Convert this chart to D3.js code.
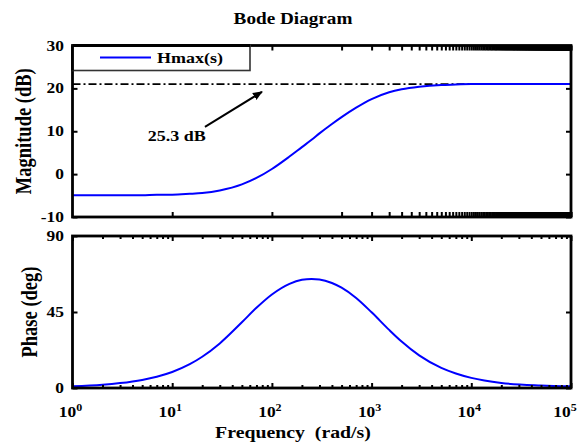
<!DOCTYPE html>
<html>
<head>
<meta charset="utf-8">
<script src="https://cdn.jsdelivr.net/npm/d3@7/dist/d3.min.js"></script>
<style>
  html, body { margin: 0; padding: 0; background: #fff; }
  svg { display: block; }
  text { font-family: "Liberation Serif", "Times New Roman", serif; font-weight: bold; fill: #000; }
</style>
</head>
<body>
<svg id="chart" width="579" height="444"></svg>
<script>
// ---- data ----
const freq = [1, 2, 3, 5, 7, 10, 15, 20, 30, 50, 70, 100, 150, 200, 250, 300, 400, 500, 700,
              1000, 1500, 2000, 3000, 5000, 7000, 10000, 20000, 50000, 100000];
const magDB = [-4.9, -4.9, -4.9, -4.9, -4.8, -4.8, -4.6, -4.4, -3.8, -2.4, -0.9, 1.2, 4.1, 6.3,
               8.0, 9.5, 11.7, 13.3, 15.5, 17.5, 19.1, 19.8, 20.4, 20.8, 20.9, 21.0, 21.0, 21.0, 21.0];
const phaseDeg = [1.0, 1.9, 2.9, 4.8, 6.7, 9.5, 14.1, 18.5, 26.4, 38.9, 47.5, 55.4, 61.7, 64.1,
                  64.6, 64.3, 62.2, 59.4, 53.3, 44.8, 34.4, 27.5, 19.3, 11.9, 8.6, 6.0, 3.0, 1.5, 1.0];
const refDB = 21.0;                  // dash-dot reference level
const magTicks = [-10, 0, 10, 20, 30];
const phaseTicks = [0, 45, 90];
const decadeTicks = [1, 10, 100, 1000, 10000, 100000];
const magTopTicks = [10, 100].concat(d3.range(500, 100001, 500));
const legendLabel = "Hmax(s)";
const annotText = "25.3 dB";
const annotTail = [21.3, 11.0];      // [rad/s, dB]
const annotHead = [79.5, 19.2];
const annotPos = [5.7, 7.7];

// ---- layout ----
const svg = d3.select("#chart");
const SX = 1.2; // horizontal text stretch seen in the reference
const x = d3.scaleLog().domain([1, 1e5]).range([72.5, 571]);
const yM = d3.scaleLinear().domain([-10, 30]).range([217, 45.5]);
const yP = d3.scaleLinear().domain([0, 90]).range([388, 236]);
const blue = "#0000ff";

function stretchedText(g, tx, ty, str, size, anchor, rot) {
  const t = g.append("text")
    .attr("transform", `translate(${tx},${ty}) scale(${SX},1)` + (rot ? ` rotate(${rot})` : ""))
    .attr("font-size", size)
    .attr("text-anchor", anchor)
    .text(str);
  return t;
}

// clip paths
const defs = svg.append("defs");
defs.append("clipPath").attr("id", "clipM").append("rect")
  .attr("x", x.range()[0]).attr("y", yM.range()[1])
  .attr("width", x.range()[1] - x.range()[0]).attr("height", yM.range()[0] - yM.range()[1]);
defs.append("clipPath").attr("id", "clipP").append("rect")
  .attr("x", x.range()[0]).attr("y", yP.range()[1])
  .attr("width", x.range()[1] - x.range()[0]).attr("height", yP.range()[0] - yP.range()[1]);
defs.append("marker").attr("id", "arrow").attr("viewBox", "0 0 10 10")
  .attr("refX", 9).attr("refY", 5).attr("markerWidth", 5).attr("markerHeight", 5)
  .attr("orient", "auto").attr("markerUnits", "strokeWidth")
  .append("path").attr("d", "M0,1 L10,5 L0,9 Z").attr("fill", "#000");

// ---- title ----
stretchedText(svg, 293, 24, "Bode Diagram", 16, "middle");

// ---- magnitude panel ----
const gM = svg.append("g");
gM.append("line")
  .attr("x1", x(1)).attr("x2", x(1e5)).attr("y1", yM(refDB)).attr("y2", yM(refDB))
  .attr("stroke", "#000").attr("stroke-width", 1.6).attr("stroke-dasharray", "8,3,2,3");

const lineM = d3.line().x((d, i) => x(freq[i])).y(d => yM(d)).curve(d3.curveMonotoneX);
gM.append("path").datum(magDB).attr("d", lineM)
  .attr("fill", "none").attr("stroke", blue).attr("stroke-width", 2)
  .attr("clip-path", "url(#clipM)");

function frameTicks(g, xs, ys, xTickVals, yTickVals, len, xMinorVals, minorLen) {
  const [x0, x1] = xs.range();
  const [y0, y1] = [ys.range()[1], ys.range()[0]]; // top, bottom
  g.append("g").attr("transform", `translate(0,${y1})`)
    .call(d3.axisBottom(xs).tickValues(xTickVals).tickSize(-len).tickFormat(""));
  g.append("g").attr("transform", `translate(0,${y0})`)
    .call(d3.axisTop(xs).tickValues(xTickVals).tickSize(-len).tickFormat(""));
  if (xMinorVals) {
    g.append("g").attr("transform", `translate(0,${y1})`)
      .call(d3.axisBottom(xs).tickValues(xMinorVals).tickSize(-minorLen).tickFormat(""));
    g.append("g").attr("transform", `translate(0,${y0})`)
      .call(d3.axisTop(xs).tickValues(xMinorVals).tickSize(-minorLen).tickFormat(""));
  }
  g.append("g").attr("transform", `translate(${x0},0)`)
    .call(d3.axisLeft(ys).tickValues(yTickVals).tickSize(-len).tickFormat(""));
  g.append("g").attr("transform", `translate(${x1},0)`)
    .call(d3.axisRight(ys).tickValues(yTickVals).tickSize(-len).tickFormat(""));
  g.selectAll(".domain").remove();
  g.selectAll(".tick line").attr("stroke", "#000").attr("stroke-width", 2);
  g.append("rect").attr("x", x0).attr("y", y0).attr("width", x1 - x0).attr("height", y1 - y0)
    .attr("fill", "none").attr("stroke", "#000").attr("stroke-width", 2.8);
}
frameTicks(gM, x, yM, magTopTicks, magTicks, 5);

// legend
const lg = gM.append("g");
lg.append("rect").attr("x", x(1)).attr("y", yM(30)).attr("width", 250 - x(1)).attr("height", 25)
  .attr("fill", "#fff").attr("stroke", "#333").attr("stroke-width", 1.6);
lg.append("line").attr("x1", 100).attr("x2", 151).attr("y1", 57.5).attr("y2", 57.5)
  .attr("stroke", blue).attr("stroke-width", 2);
stretchedText(lg, 157, 63, legendLabel, 15, "start");
gM.append("line").attr("x1", x(1)).attr("x2", 250).attr("y1", yM(30)).attr("y2", yM(30))
  .attr("stroke", "#000").attr("stroke-width", 2.8);
gM.append("line").attr("x1", x(1)).attr("x2", x(1)).attr("y1", yM(30)).attr("y2", yM(30) + 25)
  .attr("stroke", "#000").attr("stroke-width", 2.8);

// annotation
gM.append("line")
  .attr("x1", x(annotTail[0])).attr("y1", yM(annotTail[1]))
  .attr("x2", x(annotHead[0])).attr("y2", yM(annotHead[1]))
  .attr("stroke", "#000").attr("stroke-width", 2).attr("marker-end", "url(#arrow)");
stretchedText(gM, x(annotPos[0]), yM(annotPos[1]), annotText, 15, "start");

magTicks.forEach(v => {
  stretchedText(gM, 64, yM(v) + 5, String(v), 14.5, "end");
});
stretchedText(gM, 31, d3.mean(yM.range()), "Magnitude (dB)", 18.5, "middle", -90);

// ---- phase panel ----
const gP = svg.append("g");
const lineP = d3.line().x((d, i) => x(freq[i])).y(d => yP(d)).curve(d3.curveMonotoneX);
gP.append("path").datum(phaseDeg).attr("d", lineP)
  .attr("fill", "none").attr("stroke", blue).attr("stroke-width", 2)
  .attr("clip-path", "url(#clipP)");

const minor = [];
[1, 10, 100, 1000, 10000].forEach(b => { for (let k = 2; k <= 9; k++) minor.push(b * k); });
frameTicks(gP, x, yP, decadeTicks, phaseTicks, 5, minor, 3);

phaseTicks.forEach(v => {
  stretchedText(gP, 64, yP(v) + 5, String(v), 14.5, "end");
});
stretchedText(gP, 36.5, d3.mean(yP.range()), "Phase (deg)", 18.5, "middle", -90);

// x tick labels with superscripts (last one nudged to stay inside the page)
decadeTicks.forEach((v, i) => {
  const e = Math.round(Math.log10(v));
  const nudge = i === decadeTicks.length - 1 ? -6 : -2;
  const t = gP.append("text")
    .attr("transform", `translate(${x(v) + nudge},417) scale(${SX},1)`)
    .attr("font-size", 14.5).attr("text-anchor", "middle");
  t.append("tspan").text("10");
  t.append("tspan").attr("font-size", 10).attr("dy", -6).text(String(e));
});

stretchedText(svg, 293, 438, "Frequency  (rad/s)", 16.5, "middle").style("white-space", "pre");
</script>
</body>
</html>
